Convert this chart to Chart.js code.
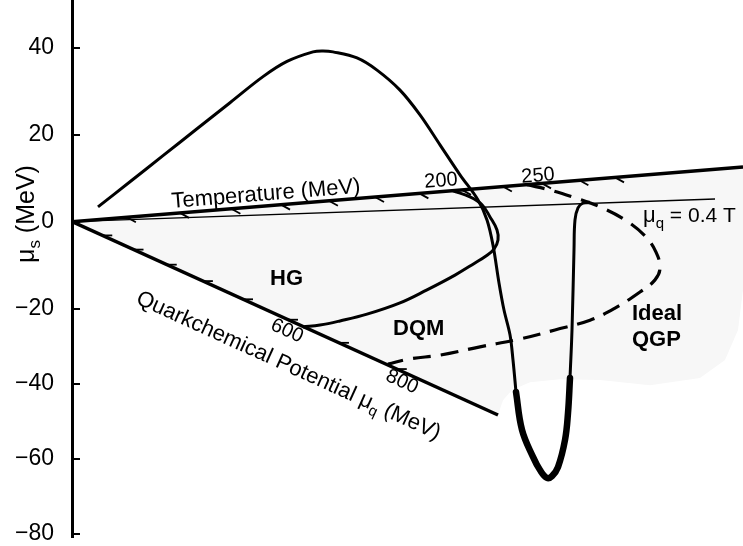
<!DOCTYPE html>
<html>
<head>
<meta charset="utf-8">
<title>strangeness phase diagram</title>
<script src="https://cdn.jsdelivr.net/npm/chart.js@4.4.1/dist/chart.umd.min.js"></script>
<style>
body{margin:0;background:#fff;}
canvas{display:block;}
</style>
</head>
<body>
<canvas id="myChart" width="743" height="546"></canvas>
<script>
//μs axis ticks (MeV)
var yTicks = [40, 20, 0, -20, -40, -60, -80];
//temperature axis ticks (MeV)
var tempTicks = [25, 50, 75, 100, 125, 150, 175, 200, 225, 250, 275, 300];
//quark chemical potential ticks (MeV)
var muqTicks = [100, 200, 300, 400, 500, 600, 700, 800];

//ends of the drawn axes (x in plot units, y in μs MeV)
var tAxisEnd = [671, 12.6];
var muqAxisEnd = [426, -48.34];
var ratioEnd = [643, 5.23];

//μs path, thin part
var strangeX = [26, 58, 91, 125, 158, 191, 215, 241, 251, 261, 285, 305, 328, 348, 368, 388, 406, 415, 421, 427, 432, 438, 441, 444];
var strangeY = [3.4, 9.2, 15.2, 21.4, 27.4, 33.4, 36.9, 39.1, 39.3, 39.1, 37.7, 34.9, 30.3, 24.6, 17.7, 10.8, 5.0, 0.4, -5.4, -14.1, -20.4, -27.0, -33.7, -42.2];
//μs path, thick dip
var dipX = [444, 450, 461, 468, 475, 480, 486, 493, 496, 498];
var dipY = [-42.2, -52.3, -59.5, -63.0, -65.1, -64.6, -62.2, -55.0, -47.8, -38.5];
//μs path, rise back
var riseX = [498, 500, 502, 503, 506, 511, 518];
var riseY = [-38.5, -25.7, -6.5, 0.4, 3.2, 4.3, 4.5];
//HG / DQM boundary
var hgX = [381, 398, 410, 418, 425, 426, 422, 414, 403, 383, 355, 328, 295, 268, 248, 231];
var hgY = [7.1, 5.7, 3.9, 1.1, -1.9, -4.2, -6.3, -7.9, -9.5, -12.3, -15.7, -18.7, -21.5, -23.3, -24.4, -24.9];
//ideal QGP boundary (dashed)
var qgpX = [455, 478, 503, 528, 553, 573, 584, 588, 583, 568, 543, 518, 483, 448, 408, 368, 338, 316];
var qgpY = [8.5, 7.3, 5.5, 3.4, 0.4, -3.3, -7.0, -10.7, -13.4, -16.2, -19.9, -23.1, -25.7, -28.1, -30.2, -32.4, -33.4, -34.8];
//shaded plane
var planeX = [0, 671, 671, 666, 653, 628, 578, 528, 488, 458, 440, 431, 426, 0];
var planeY = [0, 12.6, -15.7, -25.7, -33.7, -38.5, -40.4, -39.0, -38.8, -39.6, -41.7, -44.4, -48.3, 0];

var FONT = '"Liberation Sans", Arial, Helvetica, sans-serif';
var yMin = -72.61, yMax = 51.05;
var squeeze = 0.865; //printed axis is compressed below -20
function warp(v){ return v >= -20 ? v : -20 + (v + 20) * squeeze; }
function unwarp(w){ return w >= -20 ? w : -20 + (w + 20) / squeeze; }
var unitPx = 537 / (yMax - yMin);

function toPoints(xs, ys){
	var pts = [];
	for(var i=0;i<xs.length;i++){
		pts.push({x: xs[i], y: warp(ys[i])});
	}
	return pts;
}
function lineSet(data, width, extra){
	var set = {data: data, showLine: true, pointRadius: 0, pointHoverRadius: 0, borderColor: '#000', borderWidth: width, tension: 0, fill: false, order: 1};
	if(extra){ for(var k in extra){ set[k] = extra[k]; } }
	return set;
}
function tempPoint(t){
	var xr = 2.23*t - 0.0014*t*t;
	return {x: xr, y: warp(tAxisEnd[1]) * xr / tAxisEnd[0]};
}
function muqPoint(m){
	var xr = 0.301*m + 1.64e-7*m*m*m;
	return {x: xr, y: warp(muqAxisEnd[1]) * xr / muqAxisEnd[0]};
}

var datasets = [];
//平面
datasets.push(lineSet(toPoints(planeX, planeY), 0, {fill: 'shape', backgroundColor: '#f7f7f7', borderColor: 'rgba(0,0,0,0)', order: 10}));
//axes drawn inside the plot
datasets.push(lineSet(toPoints([0, tAxisEnd[0]], [0, tAxisEnd[1]]), 3.5));
datasets.push(lineSet(toPoints([0, muqAxisEnd[0]], [0, muqAxisEnd[1]]), 3.5));
datasets.push(lineSet(toPoints([0, ratioEnd[0]], [0, ratioEnd[1]]), 1.3));
tempTicks.forEach(function(t){
	var p = tempPoint(t);
	datasets.push(lineSet([p, {x: p.x + 9, y: p.y - 5/unitPx}], 1.8));
});
muqTicks.forEach(function(m){
	var p = muqPoint(m);
	datasets.push(lineSet([p, {x: p.x + 10, y: p.y}], 1.8));
});
//curves
datasets.push(lineSet(toPoints(strangeX, strangeY), 3, {tension: 0.35}));
datasets.push(lineSet(toPoints(dipX, dipY), 6.5, {tension: 0.4, borderCapStyle: 'round'}));
datasets.push(lineSet(toPoints(riseX, riseY), 3, {tension: 0.4}));
datasets.push(lineSet(toPoints(hgX, hgY), 3, {tension: 0.4}));
datasets.push(lineSet(toPoints(qgpX, qgpY), 3.2, {tension: 0.4, borderDash: [18, 10]}));

var notes = [
	{x: 100, y: 3.15, rot: 't', parts: [{s: 'Temperature (MeV)', size: 22}]},
	{x: 369, y: 9.37, rot: 't', mid: true, parts: [{s: '200', size: 20}]},
	{x: 466, y: 10.52, rot: 't', mid: true, parts: [{s: '250', size: 20}]},
	{x: 63, y: -18.72, rot: 'q', parts: [{s: 'Quarkchemical Potential \u03bc', size: 22}, {s: 'q', size: 15, dy: 5}, {s: ' (MeV)', size: 22}]},
	{x: 215, y: -25.98, rot: 'q', mid: true, parts: [{s: '600', size: 20}]},
	{x: 330, y: -39.55, rot: 'q', mid: true, parts: [{s: '800', size: 20}]},
	{x: 571, y: -0.07, rot: 'n', parts: [{s: '\u03bc', size: 22}, {s: 'q', size: 15, dy: 6}, {s: ' = 0.4 T', size: 21}]},
	{x: 198, y: -14.58, rot: 'n', parts: [{s: 'HG', size: 22, b: true}]},
	{x: 321, y: -27.04, rot: 'n', parts: [{s: 'DQM', size: 22, b: true}]},
	{x: 560, y: -23.05, rot: 'n', parts: [{s: 'Ideal', size: 22, b: true}]},
	{x: 560, y: -29.97, rot: 'n', parts: [{s: 'QGP', size: 22, b: true}]},
	{x: -38, y: -9.51, rot: 'y', parts: [{s: '\u03bc', size: 25}, {s: 's', size: 17, dy: 6}, {s: ' (MeV)', size: 25}]}
];

//文字和刻度
var annotate = {
	id: 'annotate',
	afterDraw: function(chart){
		var c = chart.ctx, sx = chart.scales.x, sy = chart.scales.y;
		var px = function(x){ return sx.getPixelForValue(x); };
		var py = function(v){ return sy.getPixelForValue(warp(v)); };
		var ang = {
			t: Math.atan2(py(tAxisEnd[1]) - py(0), px(tAxisEnd[0]) - px(0)),
			q: Math.atan2(py(muqAxisEnd[1]) - py(0), px(muqAxisEnd[0]) - px(0)),
			y: -Math.PI/2,
			n: 0
		};
		c.save();
		c.strokeStyle = '#000';
		c.lineWidth = 2;
		yTicks.forEach(function(v){
			var y = Math.round(py(v));
			c.beginPath();
			c.moveTo(sx.left, y);
			c.lineTo(sx.left + 8, y);
			c.stroke();
		});
		c.fillStyle = '#000';
		notes.forEach(function(n){
			c.save();
			c.translate(px(n.x), py(n.y));
			c.rotate(ang[n.rot]);
			c.textBaseline = n.mid ? 'middle' : 'alphabetic';
			c.textAlign = 'left';
			var w = 0;
			n.parts.forEach(function(p){
				c.font = (p.b ? 'bold ' : '') + p.size + 'px ' + FONT;
				w += c.measureText(p.s).width;
			});
			var cx = n.mid ? -w/2 : 0;
			n.parts.forEach(function(p){
				c.font = (p.b ? 'bold ' : '') + p.size + 'px ' + FONT;
				c.fillText(p.s, cx, p.dy || 0);
				cx += c.measureText(p.s).width;
			});
			c.restore();
		});
		c.restore();
	}
};

var ctx = document.getElementById("myChart");
var diagram = new Chart(ctx, {
	type: 'scatter',
	data: {datasets: datasets},
	options: {
		responsive: false,
		animation: false,
		layout: {padding: {left: 0, right: 0, top: 0, bottom: 9}},
		plugins: {
			legend: {display: false},
			tooltip: {enabled: false}
		},
		scales: {
			x: {type: 'linear', display: false, min: 0, max: 671},
			y: {
				type: 'linear',
				min: yMin,
				max: yMax,
				afterFit: function(scale){
					scale.width = 72;
					scale.paddingTop = 0;
					scale.paddingBottom = 0;
				},
				afterBuildTicks: function(scale){
					scale.ticks = yTicks.map(function(v){ return {value: warp(v)}; });
				},
				grid: {display: false},
				border: {display: true, color: '#000', width: 3},
				ticks: {
					autoSkip: false,
					padding: 10,
					color: '#000',
					font: {family: FONT, size: 23},
					callback: function(value){
						var v = Math.round(unwarp(value));
						return v < 0 ? '\u2212' + (-v) : '' + v;
					}
				}
			}
		}
	},
	plugins: [annotate]
});
</script>
</body>
</html>
